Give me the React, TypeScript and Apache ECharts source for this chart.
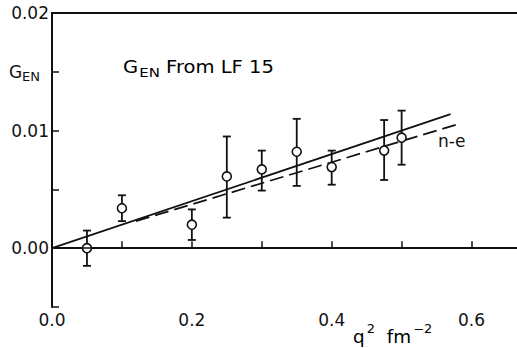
import React, { useEffect, useRef } from "react";
import * as echarts from "echarts";

// Data
const qSquared = [0.05, 0.1, 0.2, 0.25, 0.3, 0.35, 0.4, 0.475, 0.5];
const gEn = [0.0, 0.0034, 0.002, 0.0061, 0.0067, 0.0082, 0.0069, 0.0083, 0.0094];
const gEnLow = [-0.0015, 0.0023, 0.0007, 0.0026, 0.0049, 0.0053, 0.0054, 0.0058, 0.0071];
const gEnHigh = [0.0015, 0.0045, 0.0033, 0.0095, 0.0083, 0.011, 0.0083, 0.0109, 0.0117];
const fitSolidX = [0, 0.57];
const fitSolidY = [0, 0.0114];
const fitDashedX = [0.12, 0.578];
const fitDashedY = [0.0023, 0.0105];
const xTickLabels = ["0.0", "0.2", "0.4", "0.6"];
const yTickLabels: Record<string, string> = { "0.000": "0.00", "0.010": "0.01", "0.020": "0.02" };

const INK = "#111";
const FONT = "DejaVu Sans";

export default function App() {
  const ref = useRef<HTMLDivElement>(null);
  useEffect(() => {
    if (!ref.current) return;
    const chart = echarts.init(ref.current, undefined, { renderer: "svg" });
    const errData = qSquared.map((x, i) => [x, gEnLow[i], gEnHigh[i]]);
    const pts = qSquared.map((x, i) => [x, gEn[i]]);
    chart.setOption({
      animation: false,
      backgroundColor: "#fff",
      grid: { left: 52, right: 0, top: 13, bottom: 41 },
      xAxis: [
        {
          type: "value",
          min: 0,
          max: 0.665,
          interval: 0.1,
          position: "bottom",
          axisLine: { show: true, lineStyle: { color: INK, width: 2 } },
          axisTick: { show: true, inside: true, length: 7, lineStyle: { color: INK, width: 1.5 } },
          splitLine: { show: false },
          axisLabel: {
            margin: 4,
            color: INK,
            fontFamily: FONT,
            fontSize: 17,
            showMaxLabel: false,
            formatter: (v: number) => {
              const s = v.toFixed(1);
              return xTickLabels.includes(s) && Math.abs(v - parseFloat(s)) < 1e-6 ? s : "";
            },
          },
        },
        {
          type: "value",
          min: 0,
          max: 0.665,
          position: "top",
          axisLine: { show: true, lineStyle: { color: INK, width: 2 } },
          axisTick: { show: false },
          axisLabel: { show: false },
          splitLine: { show: false },
        },
      ],
      yAxis: {
        type: "value",
        min: -0.005,
        max: 0.02,
        interval: 0.005,
        axisLine: { show: true, lineStyle: { color: INK, width: 2 } },
        axisTick: { show: true, inside: true, length: 7, lineStyle: { color: INK, width: 1.5 } },
        splitLine: { show: false },
        axisLabel: {
          margin: 3,
          color: INK,
          fontFamily: FONT,
          fontSize: 17,
          formatter: (v: number) => {
            const k = v.toFixed(3);
            if (k === "0.015") return "{g|G}{s|EN}";
            return yTickLabels[k] ?? "";
          },
          rich: {
            g: { fontFamily: FONT, fontSize: 17, color: INK },
            s: { fontFamily: FONT, fontSize: 13, color: INK, padding: [10, 9, 0, 0] },
          },
        },
      },
      graphic: [
        {
          type: "text",
          x: 123,
          y: 67,
          scaleX: 1.15,
          style: {
            text: "{g|G}{s|EN}{t| From LF 15}",
            verticalAlign: "middle",
            align: "left",
            rich: {
              g: { fontFamily: FONT, fontSize: 17, color: INK },
              s: { fontFamily: FONT, fontSize: 13, color: INK, padding: [11, 0, 0, 1] },
              t: { fontFamily: FONT, fontSize: 17, color: INK },
            },
          },
        },
        {
          type: "text",
          x: 438,
          y: 141,
          style: {
            text: "n-e",
            fontFamily: FONT,
            fontSize: 17,
            fill: INK,
            verticalAlign: "middle",
            align: "left",
          },
        },
        {
          type: "text",
          x: 353,
          y: 337,
          scaleX: 1.08,
          style: {
            text: "{b|q}{p|2}{b|  fm}{p|−2}",
            verticalAlign: "middle",
            align: "left",
            rich: {
              b: { fontFamily: FONT, fontSize: 17, color: INK },
              p: { fontFamily: FONT, fontSize: 12, color: INK, padding: [0, 0, 16, 2] },
            },
          },
        },
      ],
      series: [
        {
          type: "line",
          data: fitSolidX.map((x, i) => [x, fitSolidY[i]]),
          showSymbol: false,
          lineStyle: { color: INK, width: 1.8 },
          z: 2,
          markLine: {
            silent: true,
            symbol: ["none", "none"],
            label: { show: false },
            lineStyle: { color: INK, width: 1.5, type: "solid" },
            data: [{ yAxis: 0 }],
          },
        },
        {
          type: "line",
          data: fitDashedX.map((x, i) => [x, fitDashedY[i]]),
          showSymbol: false,
          lineStyle: { color: INK, width: 1.7, type: [14, 6] },
          z: 2,
        },
        {
          type: "custom",
          data: errData,
          encode: { x: 0, y: [1, 2] },
          z: 3,
          renderItem: (params: any, api: any) => {
            const x = api.value(0);
            const lo = api.coord([x, api.value(1)]);
            const hi = api.coord([x, api.value(2)]);
            const w = 4;
            const st = { stroke: INK, lineWidth: 1.8 };
            return {
              type: "group",
              children: [
                { type: "line", shape: { x1: lo[0], y1: lo[1], x2: hi[0], y2: hi[1] }, style: st },
                { type: "line", shape: { x1: lo[0] - w, y1: lo[1], x2: lo[0] + w, y2: lo[1] }, style: st },
                { type: "line", shape: { x1: hi[0] - w, y1: hi[1], x2: hi[0] + w, y2: hi[1] }, style: st },
              ],
            };
          },
        },
        {
          type: "scatter",
          data: pts,
          symbol: "circle",
          symbolSize: 9,
          z: 4,
          itemStyle: { color: "#fff", borderColor: INK, borderWidth: 1.6, opacity: 1 },
        },
      ],
    });
    return () => chart.dispose();
  }, []);
  return (
    <div
      ref={ref}
      style={{ position: "fixed", left: 0, top: 0, width: 517, height: 348, background: "#fff" }}
    />
  );
}
